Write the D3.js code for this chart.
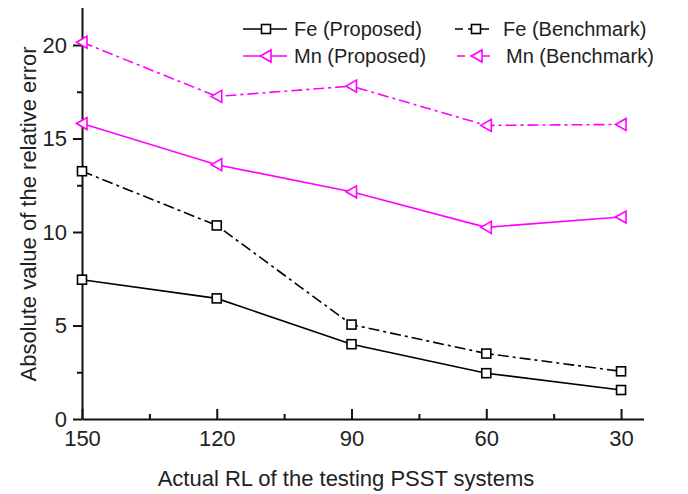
<!DOCTYPE html>
<html>
<head>
<meta charset="utf-8">
<script src="https://cdn.jsdelivr.net/npm/d3@7"></script>
<style>
  body { margin: 0; background: #fff; }
  svg { display: block; font-family: "Liberation Sans", Arial, sans-serif; }
</style>
</head>
<body>
<script>
const rlValues = [150, 120, 90, 60, 30];
const feProposed = [7.45, 6.45, 4.0, 2.45, 1.55];
const feBenchmark = [13.25, 10.35, 5.05, 3.5, 2.55];
const mnProposed = [15.8, 13.6, 12.15, 10.25, 10.8];
const mnBenchmark = [20.15, 17.25, 17.8, 15.7, 15.75];
const yTicks = [0, 5, 10, 15, 20];
const yMinor = [2.5, 7.5, 12.5, 17.5];
const xMinor = [135, 105, 75, 45];

const series = [
  { name: 'Fe (Proposed)', values: feProposed, color: '#000', dash: null, shape: 'square' },
  { name: 'Fe (Benchmark)', values: feBenchmark, color: '#000', dash: '11,4,3,4', shape: 'square' },
  { name: 'Mn (Proposed)', values: mnProposed, color: '#ff00ff', dash: null, shape: 'tri' },
  { name: 'Mn (Benchmark)', values: mnBenchmark, color: '#ff00ff', dash: '11,4,3,4', shape: 'tri' },
];

const width = 688;
const height = 494;

const x = d3.scaleLinear().domain([150, 25]).range([82, 643.5]);
const y = d3.scaleLinear().domain([0, 22]).range([419, 7.6]);

const svg = d3.select('body').append('svg')
  .attr('width', width)
  .attr('height', height);

svg.append('rect').attr('width', width).attr('height', height).attr('fill', '#fff');

// axes
const yAxis = svg.append('g')
  .attr('transform', `translate(${x(150)},0)`)
  .call(d3.axisLeft(y).tickValues(yTicks).tickSize(9).tickSizeOuter(0).tickPadding(6));

svg.append('g')
  .attr('transform', `translate(${x(150)},0)`)
  .call(d3.axisLeft(y).tickValues(yMinor).tickSize(5).tickFormat(''))
  .select('.domain').remove();

const xAxis = svg.append('g')
  .attr('transform', `translate(0,${y(0)})`)
  .call(d3.axisBottom(x).tickValues(rlValues).tickSize(-10).tickSizeOuter(0).tickPadding(11));

svg.append('g')
  .attr('transform', `translate(0,${y(0)})`)
  .call(d3.axisBottom(x).tickValues(xMinor).tickSize(-5).tickFormat(''))
  .select('.domain').remove();

svg.selectAll('.domain, .tick line')
  .attr('stroke', '#111')
  .attr('stroke-width', 2);

svg.selectAll('.tick text')
  .attr('font-size', 22)
  .attr('fill', '#222')
  .attr('font-family', '"Liberation Sans", Arial, sans-serif');

// titles
svg.append('text')
  .attr('x', 346)
  .attr('y', 486)
  .attr('text-anchor', 'middle')
  .attr('font-size', 22)
  .attr('fill', '#222')
  .text('Actual RL of the testing PSST systems');

svg.append('text')
  .attr('transform', 'translate(36,214) rotate(-90)')
  .attr('text-anchor', 'middle')
  .attr('font-size', 22)
  .attr('fill', '#222')
  .text('Absolute value of the relative error');

function drawMarker(g, shape, color, cx, cy) {
  if (shape === 'square') {
    g.append('rect')
      .attr('x', cx - 4.5).attr('y', cy - 4.5)
      .attr('width', 9).attr('height', 9)
      .attr('fill', '#fff').attr('stroke', color).attr('stroke-width', 1.6);
  } else {
    g.append('path')
      .attr('d', `M${cx - 5.5},${cy} L${cx + 5},${cy - 6} L${cx + 5},${cy + 6} Z`)
      .attr('fill', '#fff').attr('stroke', color).attr('stroke-width', 1.6);
  }
}

const line = d3.line()
  .x((d, i) => x(rlValues[i]))
  .y(d => y(d));

series.forEach((s) => {
  const g = svg.append('g');
  g.append('path')
    .datum(s.values)
    .attr('d', line)
    .attr('fill', 'none')
    .attr('stroke', s.color)
    .attr('stroke-width', 1.6)
    .attr('stroke-dasharray', s.dash);
  s.values.forEach((v, i) => drawMarker(g, s.shape, s.color, x(rlValues[i]), y(v)));
});

// legend
const legendPos = [
  { lx1: 243, lx2: 287, mx: 266, tx: 294, ty: 29 },
  { lx1: 455, lx2: 490, mx: 476, tx: 503, ty: 29 },
  { lx1: 243, lx2: 287, mx: 266, tx: 294, ty: 56 },
  { lx1: 457, lx2: 490, mx: 477, tx: 506, ty: 56 },
];

series.forEach((s, i) => {
  const p = legendPos[i];
  const g = svg.append('g');
  g.append('line')
    .attr('x1', p.lx1).attr('x2', p.lx2)
    .attr('y1', p.ty).attr('y2', p.ty)
    .attr('stroke', s.color)
    .attr('stroke-width', 1.6)
    .attr('stroke-dasharray', s.dash ? '8,5' : null);
  drawMarker(g, s.shape, s.color, p.mx, p.ty);
  g.append('text')
    .attr('x', p.tx)
    .attr('y', p.ty)
    .attr('dy', '0.36em')
    .attr('font-size', 20)
    .attr('fill', '#222')
    .text(s.name);
});
</script>
</body>
</html>
